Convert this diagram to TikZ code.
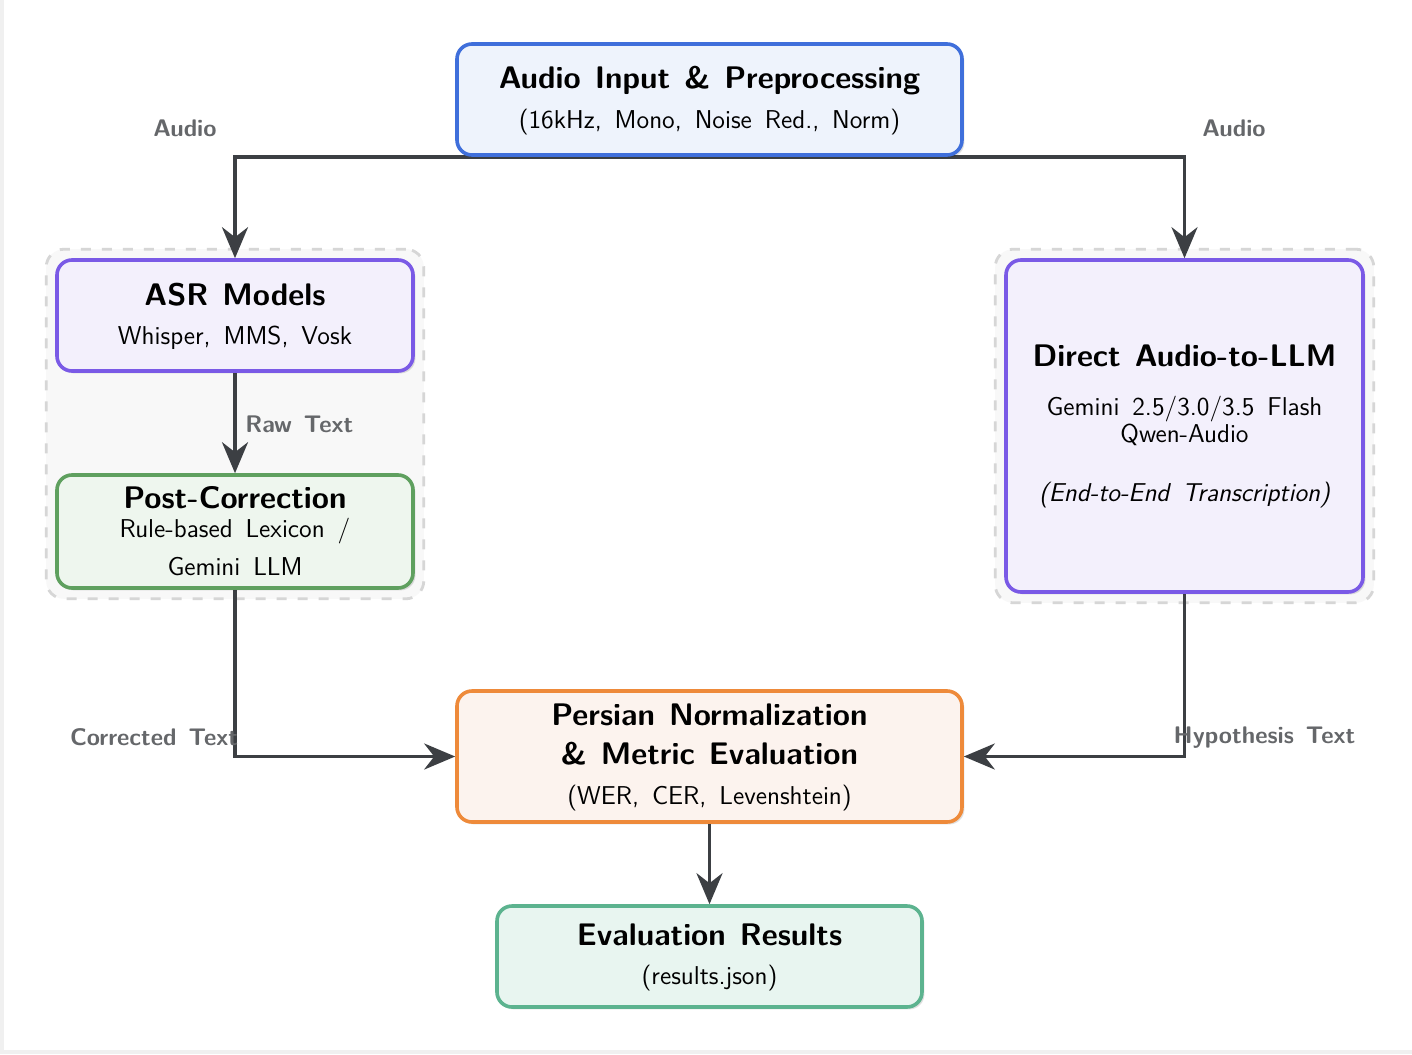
\documentclass[tikz,border=0pt]{standalone}
\usepackage{fontspec}
\usetikzlibrary{arrows.meta,shadows,fit,backgrounds}
\definecolor{conncol}{HTML}{3C3F43}
\definecolor{lblcol}{HTML}{65676A}
\definecolor{bluebd}{HTML}{3F6FDB}\definecolor{bluefill}{HTML}{EEF3FC}
\definecolor{purpbd}{HTML}{7A5AE6}\definecolor{purpfill}{HTML}{F3F0FC}
\definecolor{greenbd}{HTML}{5FA05F}\definecolor{greenfill}{HTML}{EEF6EE}
\definecolor{orangebd}{HTML}{EE8A3A}\definecolor{orangefill}{HTML}{FCF3EE}
\definecolor{tealbd}{HTML}{5CB38F}\definecolor{tealfill}{HTML}{E8F5F0}
\definecolor{grpline}{HTML}{D6D6D6}\definecolor{grpfill}{HTML}{F8F8F8}
\definecolor{edgegray}{HTML}{F0F0F0}
\newcommand\TitleFont{\sffamily\fontsize{15.6}{18}\selectfont\bfseries\spaceskip=0.45em\relax}
\newcommand\SubFont{\sffamily\fontsize{12.9}{15}\selectfont\spaceskip=0.5em\relax}
\newcommand\LabelFont{\sffamily\fontsize{12}{14}\selectfont\bfseries\spaceskip=0.5em\relax}
\tikzset{
  box/.style={draw, rounded corners=7.5pt, line width=1.8pt, inner sep=0pt,
    drop shadow={shadow xshift=1.2pt, shadow yshift=-1.2pt, opacity=0.12, fill=black}},
  conn/.style={draw=conncol, line width=1.8pt, -{Stealth[length=15.5pt,width=13pt,inset=5pt]}},
  grp/.style={draw=grpline, dash pattern=on 5pt off 5.5pt, line width=1.4pt, rounded corners=9pt, fill=grpfill, inner sep=4.5pt},
  txttitle/.style={anchor=base, font=\TitleFont, inner sep=0pt},
  txtsub/.style={anchor=base, font=\SubFont, inner sep=0pt},
  edgelbl/.style={anchor=base, font=\LabelFont, text=lblcol, inner sep=0pt},
}
\begin{document}
\begin{tikzpicture}[x=0.5pt,y=-0.5pt]
\useasboundingbox (0,0) rectangle (1412,1054);

% boxes
\node[box, draw=bluebd, fill=bluefill, minimum width=252.5pt, minimum height=55.5pt] (top) at (709.5,99.5) {};
\node[box, draw=purpbd, fill=purpfill, minimum width=178pt, minimum height=55.5pt] (asr) at (235,315.5) {};
\node[box, draw=greenbd, fill=greenfill, minimum width=178pt, minimum height=56.5pt] (post) at (235,531.5) {};
\node[box, draw=purpbd, fill=purpfill, minimum width=178.5pt, minimum height=166pt] (direct) at (1184.5,426) {};
\node[box, draw=orangebd, fill=orangefill, minimum width=252.5pt, minimum height=65.5pt] (persian) at (709.5,756.5) {};
\node[box, draw=tealbd, fill=tealfill, minimum width=212.5pt, minimum height=50.5pt] (results) at (709.5,956.5) {};

\begin{scope}[on background layer]
  \fill[white] (0,0) rectangle (1412,1054);
  \fill[edgegray] (0,0) rectangle (4,1054);
  \fill[edgegray] (0,1050) rectangle (1412,1054);
  \node[grp, fit=(asr)(post)] (leftgrp) {};
  \node[grp, fit=(direct)] (rightgrp) {};
  \draw[conn] (top.south) -| (asr.north);
  \draw[conn] (top.south) -| (direct.north);
  \draw[conn] (asr.south) -- (post.north);
  \draw[conn] (post.south) |- (persian.west);
  \draw[conn] (direct.south) |- (persian.east);
  \draw[conn] (persian.south) -- (results.north);
\end{scope}

% texts
\node[txttitle] (topA) at (709.5,89) {Audio Input \& Preprocessing};
\node[txtsub] (topB) at (709.5,128) {(16kHz, Mono, Noise Red., Norm)};
\node[txttitle] (asrA) at (235,305) {ASR Models};
\node[txtsub] (asrB) at (235,344) {Whisper, MMS, Vosk};
\node[txttitle] (postA) at (235,508) {Post-Correction};
\node[txtsub] (postB) at (235,537) {Rule-based Lexicon /};
\node[txtsub] (postC) at (235,575) {Gemini LLM};
\node[txttitle] (dirA) at (1184.5,366) {Direct Audio-to-LLM};
\node[txtsub] (dirB) at (1184.5,415) {Gemini 2.5/3.0/3.5 Flash};
\node[txtsub] (dirC) at (1184.5,442) {Qwen-Audio};
\node[txtsub, font=\SubFont\itshape] (dirD) at (1184.5,501) {(End-to-End Transcription)};
\node[txttitle] (perA) at (709.5,725.5) {Persian Normalization};
\node[txttitle] (perB) at (709.5,764.5) {\& Metric Evaluation};
\node[txtsub] (perC) at (709.5,804) {(WER, CER, Levenshtein)};
\node[txttitle] (resA) at (709.5,945) {Evaluation Results};
\node[txtsub] (resB) at (709.5,984) {(results.json)};

% edge labels
\node[edgelbl] (lblAudioL) at (185,136) {Audio};
\node[edgelbl] (lblAudioR) at (1234,136) {Audio};
\node[edgelbl, anchor=base west] (lblRaw) at (245,432) {Raw Text};
\node[edgelbl] (lblCorr) at (154,745) {Corrected Text};
\node[edgelbl] (lblHyp) at (1264.5,743) {Hypothesis Text};
\end{tikzpicture}
\end{document}
